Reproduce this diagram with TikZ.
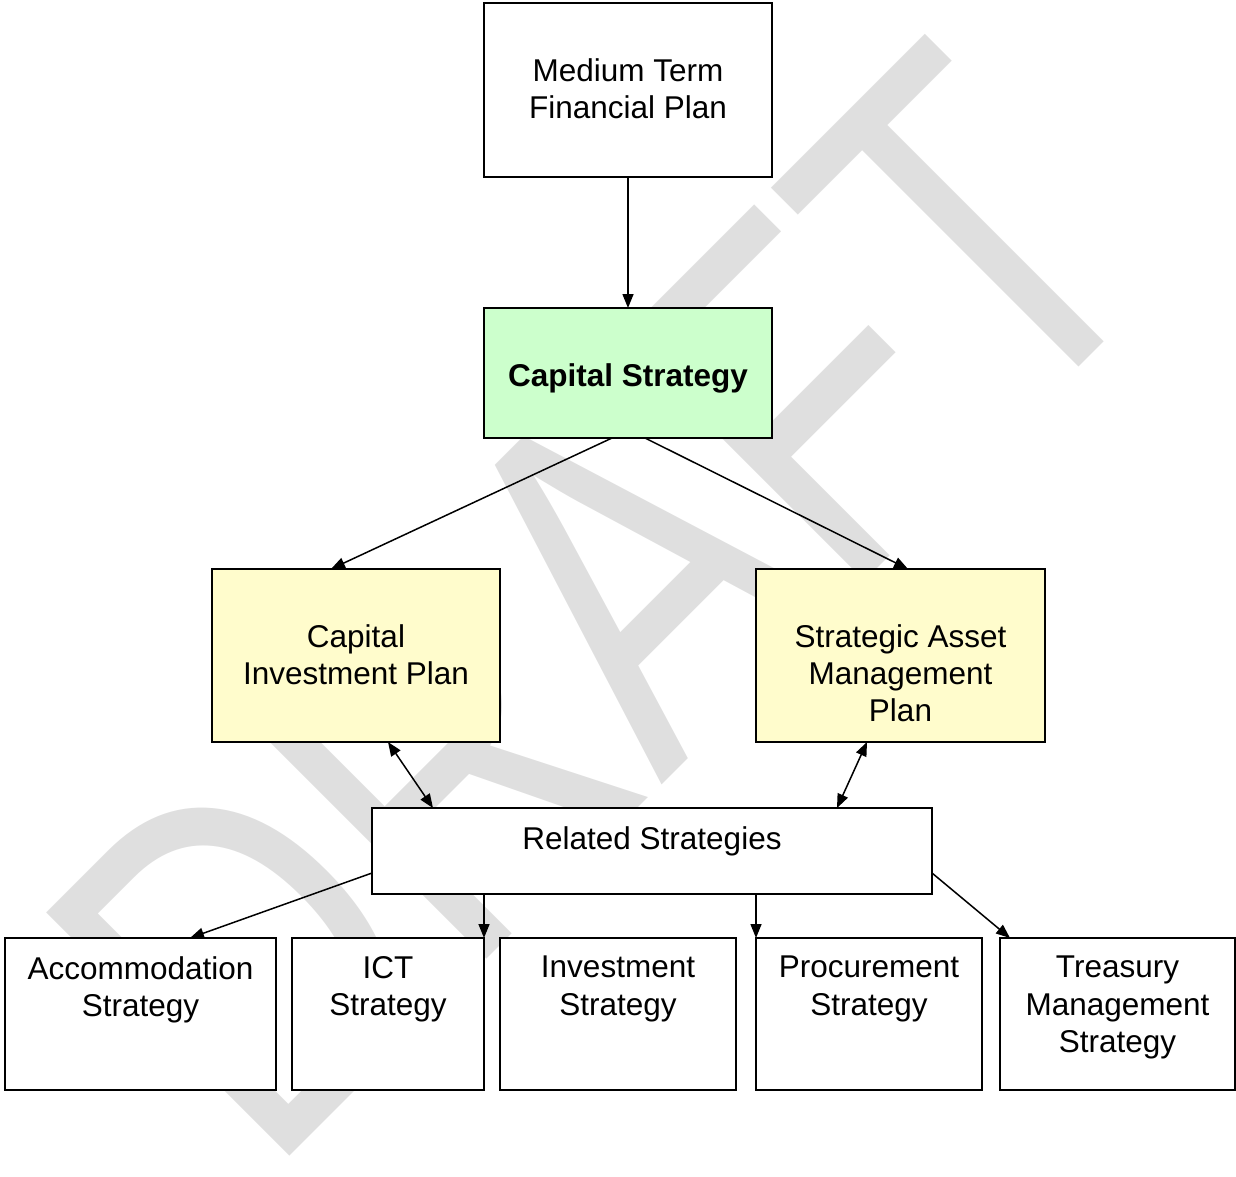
\documentclass[tikz,border=0pt]{standalone}
\usepackage{fontspec}
\setmainfont{Liberation Sans}
\usetikzlibrary{positioning,arrows.meta}

\begin{document}
\begin{tikzpicture}[
  x=1pt, y=-1pt,
  node distance=16pt,
  box/.style={draw, line width=1.6pt, outer sep=0pt, inner sep=0pt, fill=white},
  planbox/.style={box, fill=yellow!20},
  keybox/.style={box, fill=green!20},
  txt/.style={font=\fontsize{31.5}{37.4}\selectfont, align=center, inner sep=0pt, anchor=north},
  mark text/.style={font=\fontsize{500}{500}\selectfont, text=gray!25, inner sep=0pt},
  arr/.style={-{Triangle[length=14pt,width=11pt]}, line width=1.5pt},
  dblarr/.style={{Triangle[length=14pt,width=11pt]}-{Triangle[length=14pt,width=11pt]}, line width=1.5pt}
]
  \useasboundingbox (0,0) rectangle (1236,1176);

  % Watermark
  \node[mark text, rotate=45, xscale=0.77] (draft) at (600,603) {DRAFT};

  % Top
  \node[box, minimum width=288pt, minimum height=174pt] (mtfp) at (628,90) {};
  \node[keybox, minimum width=288pt, minimum height=130pt, below=131pt of mtfp] (cs) {};

  % Plans
  \node[planbox, minimum width=288pt, minimum height=173pt] (cip) at (356,655.5) {};
  \node[planbox, minimum width=289pt, minimum height=173pt] (samp) at (900.5,655.5) {};

  % Strategies
  \node[box, minimum width=560pt, minimum height=86pt] (rel) at (652,851) {};
  \node[box, minimum width=271pt, minimum height=152pt] (acc) at (140.5,1014) {};
  \node[box, minimum width=192pt, minimum height=152pt, right=of acc] (ict) {};
  \node[box, minimum width=236pt, minimum height=152pt, right=of ict] (inv) {};
  \node[box, minimum width=226pt, minimum height=152pt, right=20pt of inv] (proc) {};
  \node[box, minimum width=235pt, minimum height=152pt, right=18pt of proc] (treas) {};

  % Texts
  \node[txt] (mtfp-t) at ([yshift=-55pt]mtfp.north) {Medium Term\\Financial Plan};
  \node[txt, font=\fontsize{31.5}{37.4}\selectfont\bfseries] (cs-t) at ([yshift=-55pt]cs.north) {Capital Strategy};
  \node[txt] (cip-t) at ([yshift=-55pt]cip.north) {Capital\\Investment Plan};
  \node[txt] (samp-t) at ([yshift=-55pt]samp.north) {Strategic Asset\\Management\\Plan};
  \node[txt] (rel-t) at ([yshift=-18pt]rel.north) {Related Strategies};
  \node[txt] (acc-t) at ([yshift=-18pt]acc.north) {Accommodation\\Strategy};
  \node[txt] (ict-t) at ([yshift=-18pt]ict.north) {ICT\\Strategy};
  \node[txt] (inv-t) at ([yshift=-18pt]inv.north) {Investment\\Strategy};
  \node[txt] (proc-t) at ([yshift=-18pt]proc.north) {Procurement\\Strategy};
  \node[txt] (treas-t) at ([yshift=-18pt]treas.north) {Treasury\\Management\\Strategy};

  % Arrows
  \draw[arr] (mtfp) -- (cs);
  \draw[arr] ([xshift=-16pt]cs.south) -- ([xshift=-25pt]cip.north);
  \draw[arr] ([xshift=17pt]cs.south) -- ([xshift=7.5pt]samp.north);
  \draw[dblarr] ([xshift=32pt]cip.south) -- ([xshift=61pt]rel.north west);
  \draw[dblarr] ([xshift=-33.5pt]samp.south) -- ([xshift=-95pt]rel.north east);
  \draw[arr] ([yshift=-22pt]rel.west) -- ([xshift=49.5pt]acc.north);
  \draw[arr] (ict.north east |- rel.south) -- (ict.north east);
  \draw[arr] (proc.north west |- rel.south) -- (proc.north west);
  \draw[arr] ([yshift=-22pt]rel.east) -- ([xshift=10pt]treas.north west);
\end{tikzpicture}
\end{document}
